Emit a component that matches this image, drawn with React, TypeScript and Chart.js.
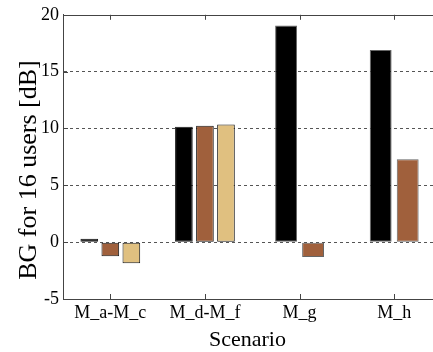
import React, { useEffect, useRef } from 'react';
import { Chart, registerables } from 'chart.js';

Chart.register(...registerables);

const categories = ['M_a-M_c', 'M_d-M_f', 'M_g', 'M_h'];
const blackValues: (number | null)[] = [0.3, 10.15, 19.05, 16.9];
const brownValues: (number | null)[] = [-1.25, 10.25, -1.3, 7.3];
const tanValues: (number | null)[] = [-1.85, 10.35, null, null];
const yTickStep = 5;
const yMin = -5;
const yMax = 20;
const yTitle = 'BG for 16 users [dB]';
const xTitle = 'Scenario';

const BLACK = '#000000';
const BROWN = '#A0603C';
const TAN = '#E0C080';
const FONT = '"Liberation Serif", "Times New Roman", serif';

const hasThird = categories.map((_, i) => tanValues[i] !== null && tanValues[i] !== undefined);
const pick = (arr: (number | null)[], three: boolean) =>
  arr.map((v, i) => (hasThird[i] === three ? v : null));

const decor = {
  id: 'decor',
  afterDatasetsDraw(chart: any) {
    const { ctx, chartArea, scales } = chart;
    const { left, right, top, bottom } = chartArea;
    const x = scales.x;
    const y = scales.y;
    ctx.save();
    ctx.strokeStyle = '#444';
    ctx.lineWidth = 1;
    ctx.beginPath();
    ctx.moveTo(left, Math.round(top) + 0.5);
    ctx.lineTo(right, Math.round(top) + 0.5);
    x.ticks.forEach((_: any, i: number) => {
      const px = Math.round(x.getPixelForTick(i)) + 0.5;
      ctx.moveTo(px, top);
      ctx.lineTo(px, top + 5);
      ctx.moveTo(px, bottom);
      ctx.lineTo(px, bottom - 5);
    });
    y.ticks.forEach((_: any, i: number) => {
      const py = Math.round(y.getPixelForTick(i)) + 0.5;
      ctx.moveTo(left, py);
      ctx.lineTo(left + 5, py);
    });
    ctx.stroke();

    ctx.fillStyle = '#000';
    ctx.textAlign = 'center';
    ctx.textBaseline = 'alphabetic';
    ctx.font = `22px ${FONT}`;
    ctx.fillText(xTitle, 247.5, 346);

    ctx.translate(36, 170);
    ctx.rotate(-Math.PI / 2);
    ctx.font = `26px ${FONT}`;
    ctx.fillText(yTitle, 0, 0);
    ctx.restore();
  },
};

export default function App() {
  const ref = useRef<HTMLCanvasElement>(null);

  useEffect(() => {
    if (!ref.current) return;
    const three = { categoryPercentage: 0.667, barPercentage: 0.84, borderColor: '#1a1a1a' };
    const two = { categoryPercentage: 0.571, barPercentage: 0.81, borderColor: '#666' };
    const common = { borderWidth: 1, borderSkipped: false as const, skipNull: true };
    const chart = new Chart(ref.current, {
      type: 'bar',
      data: {
        labels: categories,
        datasets: [
          { data: pick(blackValues, true), backgroundColor: BLACK, ...common, ...three },
          { data: pick(brownValues, true), backgroundColor: BROWN, ...common, ...three },
          { data: pick(tanValues, true), backgroundColor: TAN, ...common, ...three },
          { data: pick(blackValues, false), backgroundColor: BLACK, ...common, ...two },
          { data: pick(brownValues, false), backgroundColor: BROWN, ...common, ...two },
        ] as any,
      },
      options: {
        animation: false,
        responsive: false,
        devicePixelRatio: 1,
        layout: { padding: { left: 0, top: 14, right: 18.5, bottom: 0 } },
        plugins: { legend: { display: false }, tooltip: { enabled: false } },
        scales: {
          x: {
            offset: true,
            grid: { display: false, drawTicks: false },
            border: { display: true, color: '#444', width: 1 },
            ticks: { color: '#000', font: { family: FONT, size: 18 }, padding: 3, maxRotation: 0, autoSkip: false },
            afterFit: (s: any) => { s.height = 53; },
          },
          y: {
            min: yMin,
            max: yMax,
            grid: {
              drawTicks: false,
              color: (c: any) => (c.tick && (c.tick.value === yMin || c.tick.value === yMax) ? 'rgba(0,0,0,0)' : '#555'),
              lineWidth: 1,
            },
            border: { display: true, color: '#444', width: 1, dash: [3, 3] },
            ticks: {
              stepSize: yTickStep,
              color: '#000',
              font: { family: FONT, size: 18 },
              padding: 4,
              callback: (v: any) => String(v),
            },
            afterFit: (s: any) => { s.width = 63; },
          },
        },
      } as any,
      plugins: [decor],
    });
    return () => chart.destroy();
  }, []);

  return (
    <div style={{ position: 'fixed', left: 0, top: 0, width: 433, height: 352, overflow: 'hidden', background: '#fff' }}>
      <canvas ref={ref} width={460} height={352} style={{ display: 'block', width: 460, height: 352 }} />
    </div>
  );
}
